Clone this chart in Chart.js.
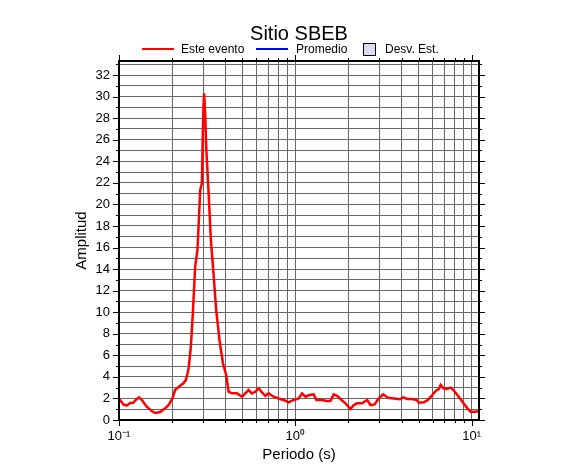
<!DOCTYPE html>
<html>
<head>
<meta charset="utf-8">
<script src="https://cdn.jsdelivr.net/npm/chart.js@4.4.0/dist/chart.umd.min.js"></script>
<style>
  html, body { margin: 0; padding: 0; background: #fff; }
</style>
</head>
<body>
<canvas id="myChart" width="586" height="475"></canvas>
<script>
const periods = [0.1, 0.1058, 0.1106, 0.1155, 0.1206, 0.1244, 0.1299, 0.1346, 0.1437, 0.1534,
  0.1602, 0.171, 0.1826, 0.1923, 0.2008, 0.208, 0.2193, 0.2319, 0.2393, 0.2456,
  0.2489, 0.2555, 0.2623, 0.2703, 0.2786, 0.2837, 0.2886, 0.2951, 0.299, 0.3013,
  0.3041, 0.3081, 0.3122, 0.3216, 0.3319, 0.3434, 0.3558, 0.3715, 0.3884, 0.4055,
  0.4178, 0.4369, 0.4665, 0.4981, 0.52, 0.543, 0.5675, 0.5925, 0.6188, 0.6469,
  0.6753, 0.7052, 0.7529, 0.8039, 0.8583, 0.9162, 0.978, 1.044, 1.091, 1.14,
  1.205, 1.27, 1.316, 1.418, 1.514, 1.581, 1.651, 1.726, 1.802, 1.923,
  2.053, 2.144, 2.242, 2.393, 2.498, 2.555, 2.668, 2.812, 2.974, 3.148,
  3.343, 3.618, 3.914, 4.092, 4.312, 4.603, 4.87, 5.019, 5.358, 5.646,
  5.981, 6.245, 6.521, 6.668, 6.907, 7.211, 7.598, 7.87, 8.294, 8.855,
  9.455, 9.87, 10.54, 11.0];
const amplitudes = [2.0, 1.45, 1.33, 1.58, 1.6, 1.86, 2.1, 1.86, 1.24, 0.83,
  0.65, 0.74, 1.08, 1.45, 2.0, 2.78, 3.1, 3.4, 3.7, 4.4,
  4.95, 6.8, 9.9, 14.2, 15.8, 18.55, 21.3, 21.95, 26.9, 29.1,
  30.3, 28.45, 25.35, 21.3, 16.7, 13.6, 10.2, 7.4, 5.26, 4.17,
  2.62, 2.47, 2.47, 2.16, 2.47, 2.78, 2.47, 2.62, 2.94, 2.57,
  2.25, 2.47, 2.16, 2.0, 1.86, 1.64, 1.86, 2.0, 2.47, 2.16,
  2.32, 2.38, 1.86, 1.86, 1.76, 1.76, 2.38, 2.25, 1.95, 1.55,
  1.02, 1.39, 1.55, 1.55, 1.76, 1.86, 1.39, 1.45, 2.0, 2.38,
  2.07, 2.0, 1.92, 2.1, 1.95, 1.95, 1.86, 1.6, 1.64, 1.86,
  2.32, 2.69, 2.88, 3.25, 2.94, 2.88, 3.0, 2.78, 2.32, 1.7,
  1.08, 0.77, 0.77, 0.83];

const xTicks = [0.1, 0.2, 0.3, 0.4, 0.5, 0.6, 0.7, 0.8, 0.9,
  1, 2, 3, 4, 5, 6, 7, 8, 9, 10];
const xTickLabels = {'0.1': '10\u207B\u00B9', '1': '10\u2070', '10': '10\u00B9'};
const yTicks = [];
for (let i = 0; i <= 33; i++) yTicks.push(i);

const legendNames = ['Este evento', 'Promedio', 'Desv. Est.'];
const legendColors = ['#ff0000', '#0000ff', '#dcdcf5'];

const FONT = '"Liberation Sans", Arial, Helvetica, sans-serif';

function isDecade(v) {
  let l = Math.log10(v);
  return Math.abs(l - Math.round(l)) < 1e-9;
}

// frame, outside tick marks, title and legend
const decorations = {
  id: 'decorations',
  afterDraw(chart) {
    const ctx = chart.ctx;
    const {left, right, top, bottom} = chart.chartArea;
    const xs = chart.scales.x, ys = chart.scales.y;
    ctx.save();
    ctx.strokeStyle = '#000';
    ctx.lineWidth = 1;
    ctx.beginPath();
    xTicks.forEach(v => {
      let px = Math.round(xs.getPixelForValue(v)) + 0.5;
      let len = isDecade(v) ? 6 : 3;
      ctx.moveTo(px, bottom); ctx.lineTo(px, bottom + len);
      ctx.moveTo(px, top); ctx.lineTo(px, top - len);
    });
    yTicks.forEach(v => {
      let py = Math.round(ys.getPixelForValue(v)) + 0.5;
      let len = v % 2 == 0 ? 6 : 3;
      ctx.moveTo(left - len, py); ctx.lineTo(left, py);
      ctx.moveTo(right, py); ctx.lineTo(right + len, py);
    });
    ctx.stroke();

    ctx.lineWidth = 2;
    ctx.strokeRect(left, top, right - left, bottom - top);

    // title
    ctx.fillStyle = '#000';
    ctx.textAlign = 'center';
    ctx.textBaseline = 'alphabetic';
    ctx.font = '20px ' + FONT;
    ctx.fillText('Sitio SBEB', (left + right) / 2, 40);

    // legend
    ctx.font = '12px ' + FONT;
    ctx.textAlign = 'left';
    ctx.lineWidth = 2;
    ctx.strokeStyle = legendColors[0];
    ctx.beginPath(); ctx.moveTo(142, 49); ctx.lineTo(174, 49); ctx.stroke();
    ctx.fillText(legendNames[0], 181, 53);
    ctx.strokeStyle = legendColors[1];
    ctx.beginPath(); ctx.moveTo(256, 49); ctx.lineTo(288, 49); ctx.stroke();
    ctx.fillText(legendNames[1], 296, 53);
    ctx.fillStyle = legendColors[2];
    ctx.fillRect(363, 43, 12, 12);
    ctx.lineWidth = 1;
    ctx.strokeStyle = '#000';
    ctx.strokeRect(363.5, 43.5, 12, 12);
    ctx.fillStyle = '#000';
    ctx.fillText(legendNames[2], 385, 53);
    ctx.restore();
  }
};

const ctx = document.getElementById('myChart');

new Chart(ctx, {
  type: 'line',
  data: {
    datasets: [{
      label: legendNames[0],
      data: periods.map((p, i) => ({x: p, y: amplitudes[i]})),
      borderColor: legendColors[0],
      borderWidth: 2.5,
      pointRadius: 0,
      tension: 0,
      fill: false
    }]
  },
  options: {
    responsive: false,
    animation: false,
    layout: {padding: {left: 0, right: 107, top: 61, bottom: 0}},
    plugins: {
      legend: {display: false},
      title: {display: false},
      tooltip: {enabled: false}
    },
    scales: {
      x: {
        type: 'logarithmic',
        min: 0.1,
        max: 11,
        afterBuildTicks: (scale) => { scale.ticks = xTicks.map(v => ({value: v})); },
        afterFit: (scale) => { scale.height = 55; },
        grid: {color: '#666666', lineWidth: 1, drawTicks: false},
        border: {display: false},
        ticks: {
          autoSkip: false,
          maxRotation: 0,
          padding: 9,
          color: '#000',
          font: {family: FONT, size: 13},
          callback: (val) => {
            for (const k in xTickLabels) if (Math.abs(val - Number(k)) < 1e-9) return xTickLabels[k];
            return '';
          }
        },
        title: {
          display: true,
          text: 'Periodo (s)',
          color: '#000',
          font: {family: FONT, size: 15},
          padding: {top: 0, bottom: 11}
        }
      },
      y: {
        type: 'linear',
        min: 0,
        max: 33.3,
        afterBuildTicks: (scale) => { scale.ticks = yTicks.map(v => ({value: v})); },
        afterFit: (scale) => { scale.width = 119; },
        grid: {color: '#666666', lineWidth: 1, drawTicks: false},
        border: {display: false},
        ticks: {
          autoSkip: false,
          padding: 9,
          color: '#000',
          font: {family: FONT, size: 13},
          callback: (val) => val % 2 == 0 ? String(val) : ''
        },
        title: {
          display: true,
          text: 'Amplitud',
          color: '#000',
          font: {family: FONT, size: 15},
          padding: {top: 73, bottom: 0}
        }
      }
    }
  },
  plugins: [decorations]
});
</script>
</body>
</html>
